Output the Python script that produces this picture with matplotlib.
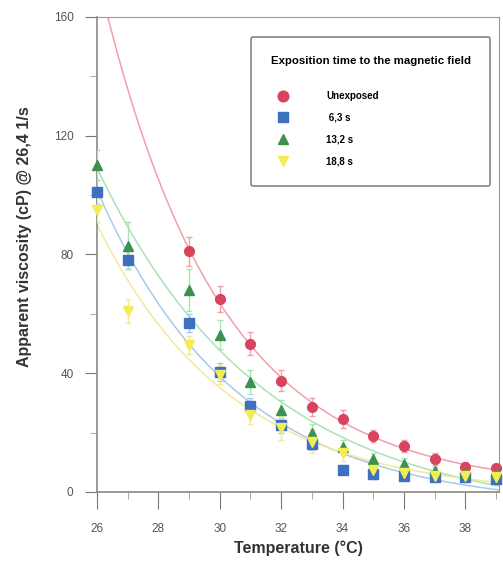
import numpy as np
import matplotlib
matplotlib.use('Agg')
import matplotlib.pyplot as plt

plt.rcParams['font.family'] = ['Liberation Sans', 'DejaVu Sans']

# temperatures (degC)
temps = [26, 27, 29, 30, 31, 32, 33, 34, 35, 36, 37, 38, 39]
temps_red = [29, 30, 31, 32, 33, 34, 35, 36, 37, 38, 39]

# apparent viscosity (cP) per exposition time
unexposed = [81, 65, 50, 37.5, 28.5, 24.5, 19, 15.5, 11, 8.5, 8]
t6_3 = [101, 78, 57, 40.5, 29, 22.5, 16, 7.5, 6, 5.5, 5, 5, 4.5]
t13_2 = [110, 83, 68, 53, 37, 27.5, 20, 15, 11, 9.5, 7, 6.5, 6]
t18_8 = [95, 61, 49.5, 39.5, 26, 21.5, 17, 13, 7.5, 6.5, 5.5, 5.5, 5]

# error bars
err_red = [5, 4.5, 4, 3.5, 3, 3, 2, 2, 2, 1.5, 1.5]
err_blue = [4, 3, 3, 3, 2.5, 2.5, 2, 1.5, 1.5, 1, 1, 1, 1]
err_green = [5, 8, 7, 5, 4, 3.5, 3, 2.5, 2, 2, 1.5, 1.5, 1.5]
err_yellow = [4, 4, 3, 3, 3, 4, 4, 2.5, 2, 1.5, 1.5, 1, 1]

labels = ['Unexposed', ' 6,3 s', '13,2 s', '18,8 s']


def exp_fit(x, y):
    # y = a*exp(-b*(x-26)) + c, linear in a and c for given b
    x = np.asarray(x, float)
    y = np.asarray(y, float)
    best = None
    for b in np.linspace(0.05, 1.2, 1000):
        A = np.column_stack([np.exp(-b * (x - 26)), np.ones_like(x)])
        coef, *_ = np.linalg.lstsq(A, y, rcond=None)
        sse = np.sum((A @ coef - y) ** 2)
        if best is None or sse < best[0]:
            best = (sse, b, coef)
    _, b, (a, c) = best
    return lambda t: a * np.exp(-b * (t - 26)) + c


fig = plt.figure(figsize=(5.03, 5.61), dpi=100)
ax = fig.add_axes([0.193, 0.123, 0.799, 0.847])

series = [
    (temps_red, unexposed, err_red, 'o', '#d8435e', '#f2a0a8'),
    (temps, t6_3, err_blue, 's', '#3e70c2', '#a9c8ea'),
    (temps, t13_2, err_green, '^', '#3c9150', '#a9e2b4'),
    (temps, t18_8, err_yellow, 'v', '#f4ec55', '#f1ea9a'),
]

tt = np.linspace(26, 39.2, 300)
for (x, y, e, m, c, lc) in series:
    f = exp_fit(x, y)
    ax.plot(tt, f(tt), color=lc, lw=1.1, zorder=1)

for (x, y, e, m, c, lc), lab in zip(series, labels):
    eb = ax.errorbar(x, y, yerr=e, fmt=m, color=c, ms=7, ecolor=lc,
                     elinewidth=1, capsize=2.5, mec=c, label=lab, zorder=3)
    eb[0].set_clip_on(False)

ax.set_xlim(26, 39.1)
ax.set_ylim(0, 160)
ax.set_xticks(range(26, 39, 2))
ax.set_xticks(range(27, 40, 2), minor=True)
ax.set_yticks(range(0, 161, 40))
ax.set_yticks(range(20, 160, 40), minor=True)
ax.tick_params(which='major', direction='out', colors='#777777',
               labelsize=8.5, labelcolor='#555555')
ax.tick_params(axis='x', which='major', length=12, pad=10)
ax.tick_params(axis='y', which='major', length=9, pad=8)
ax.tick_params(which='minor', direction='out', length=5, colors='#999999')
for s in ['left', 'bottom']:
    ax.spines[s].set_color('#888888')
    ax.spines[s].set_linewidth(1.2)
for s in ['top', 'right']:
    ax.spines[s].set_color('#999999')

ax.set_xlabel('Temperature (°C)', fontsize=11.5, fontweight='bold',
              color='#333333', labelpad=4)
ax.set_ylabel('Apparent viscosity (cP) @ 26,4 1/s', fontsize=11.5,
              fontweight='bold', color='#333333')
ax.yaxis.set_label_coords(-0.162, 0.537)

handles, labs = ax.get_legend_handles_labels()
handles = [h[0] for h in handles]
leg = ax.legend(handles, labs, title='Exposition time to the magnetic field',
                loc='upper right', bbox_to_anchor=(0.978, 0.958),
                fontsize=7, title_fontproperties={'weight': 'bold', 'size': 8.2},
                labelspacing=1.2, handlelength=2.5, handletextpad=3.2,
                borderpad=2.0, borderaxespad=0, markerscale=1.1,
                alignment='left',
                frameon=True, fancybox=True, edgecolor='#666666')
for t in leg.get_texts():
    t.set_fontweight('bold')
leg._legend_box.sep = 18
leg.get_frame().set_linewidth(1.2)

fig.savefig('out.png', dpi=100)
